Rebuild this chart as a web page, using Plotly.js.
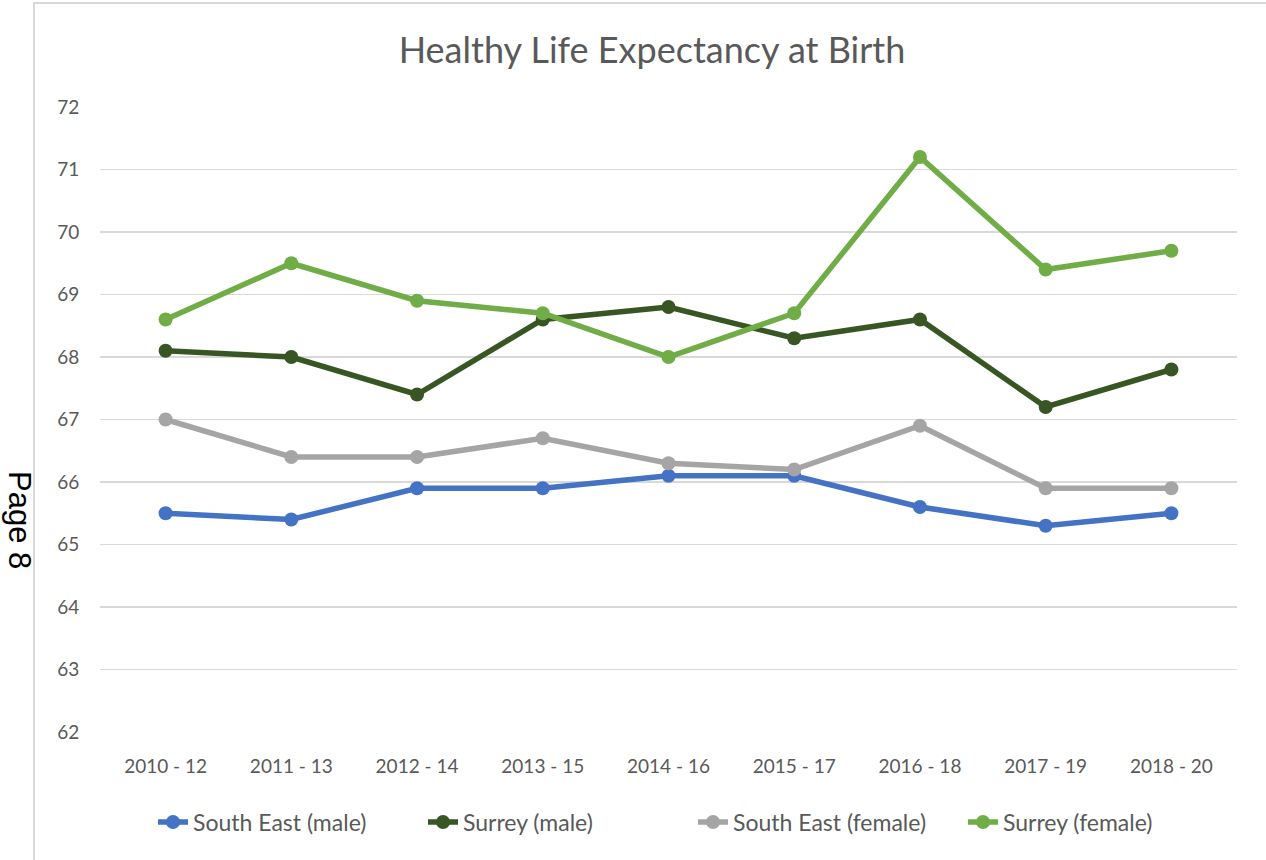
<!DOCTYPE html>
<html>
<head>
<meta charset="utf-8">
<script src="https://cdn.plot.ly/plotly-3.0.1.min.js"></script>
<style>
html,body{margin:0;padding:0;background:#fff;}
#chart{width:1266px;height:860px;}
</style>
</head>
<body>
<div id="chart"></div>
<script>
const categories = ["2010 - 12","2011 - 13","2012 - 14","2013 - 15","2014 - 16","2015 - 17","2016 - 18","2017 - 19","2018 - 20"];
const southEastMale   = [65.5, 65.4, 65.9, 65.9, 66.1, 66.1, 65.6, 65.3, 65.5];
const surreyMale      = [68.1, 68.0, 67.4, 68.6, 68.8, 68.3, 68.6, 67.2, 67.8];
const southEastFemale = [67.0, 66.4, 66.4, 66.7, 66.3, 66.2, 66.9, 65.9, 65.9];
const surreyFemale    = [68.6, 69.5, 68.9, 68.7, 68.0, 68.7, 71.2, 69.4, 69.7];
const seriesNames = ["South East (male)","Surrey (male)","South East (female)","Surrey (female)"];
const seriesColors = ["#4472C4","#375623","#A5A5A5","#70AD47"];
const seriesValues = [southEastMale, surreyMale, southEastFemale, surreyFemale];

const FONT = "Lato, 'Noto Sans', sans-serif";
const traces = seriesValues.map((vals, i) => ({
  type: "scatter",
  mode: "lines+markers",
  name: seriesNames[i],
  x: categories,
  y: vals,
  line: {color: seriesColors[i], width: 5.5},
  marker: {color: seriesColors[i], size: 14},
  hoverinfo: "x+y+name"
}));

const W = 1266, H = 860;
const L = 100, R = 29, T = 107, B = 128;
const pw = W - L - R;
const ph = H - T - B;

const layout = {
  width: W, height: H,
  margin: {l: L, r: R, t: T, b: B, pad: 0},
  paper_bgcolor: "#ffffff",
  plot_bgcolor: "#ffffff",
  font: {family: FONT, color: "#595959", size: 19},
  title: {
    text: "Healthy Life Expectancy at Birth",
    font: {family: FONT, size: 36, color: "#595959"},
    xref: "container", yref: "container",
    x: 652 / W, y: 1 - 50 / H, xanchor: "center", yanchor: "middle"
  },
  xaxis: {
    type: "category",
    showgrid: false,
    zeroline: false,
    showline: false,
    ticks: "outside", ticklen: 17, tickcolor: "rgba(0,0,0,0)",
    tickfont: {family: FONT, size: 19, color: "#595959"}
  },
  yaxis: {
    range: [62, 72],
    dtick: 1,
    tick0: 62,
    showgrid: true,
    gridcolor: "#d9d9d9",
    gridwidth: 1.5,
    zeroline: false,
    showline: false,
    ticks: "outside", ticklen: 16, tickcolor: "rgba(0,0,0,0)",
    tickfont: {family: FONT, size: 19, color: "#595959"}
  },
  showlegend: true,
  legend: {
    orientation: "h",
    xref: "container", yref: "container",
    x: 693 / W, y: 1 - 822 / H,
    xanchor: "center", yanchor: "middle",
    font: {family: FONT, size: 23, color: "#595959"},
    itemwidth: 30,
    entrywidth: 225,
    tracegroupgap: 0,
    bgcolor: "rgba(0,0,0,0)"
  },
  shapes: [{
    type: "rect", xref: "paper", yref: "paper",
    x0: (34 - L) / pw, x1: (W + 10 - L) / pw,
    y0: (H - B - (H + 10)) / ph, y1: (H - B - 3) / ph,
    line: {color: "#d9d9d9", width: 2},
    fillcolor: "rgba(0,0,0,0)",
    layer: "below"
  }],
  annotations: [{
    text: "Page 8",
    xref: "paper", yref: "paper",
    x: (20 - L) / pw, y: (H - B - 520) / ph,
    xanchor: "center", yanchor: "middle",
    textangle: 90,
    showarrow: false,
    font: {family: "Liberation Sans, Arial, sans-serif", size: 31, color: "#000000"}
  }]
};

Plotly.newPlot("chart", traces, layout, {displayModeBar: false, staticPlot: true});
</script>
</body>
</html>
